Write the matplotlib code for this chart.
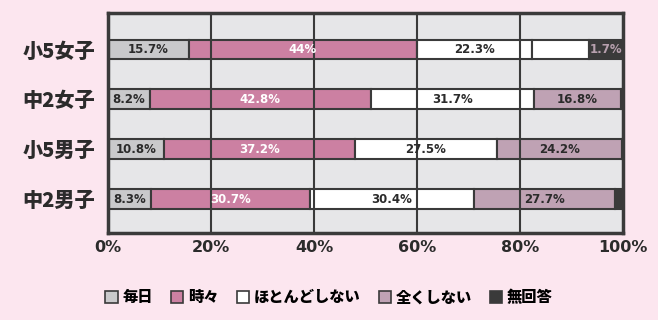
import matplotlib
matplotlib.use("Agg")
import matplotlib.pyplot as plt
import numpy as np
from matplotlib.patches import Patch

plt.rcParams['font.family'] = ['Noto Sans CJK JP', 'DejaVu Sans']

# data (percent)
groups = ["小5女子", "中2女子", "小5男子", "中2男子"]
categories = ["毎日", "時々", "ほとんどしない", "全くしない", "無回答"]
every_day = [15.7, 8.2, 10.8, 8.3]
sometimes = [44.3, 42.8, 37.2, 30.9]
rarely = [22.3, 31.7, 27.5, 31.9]
never = [11.1, 16.8, 24.2, 27.3]
no_answer = [6.6, 0.5, 0.3, 1.6]
bar_labels = [
    ["15.7%", "44%", "22.3%", "", "1.7%"],
    ["8.2%", "42.8%", "31.7%", "16.8%", ""],
    ["10.8%", "37.2%", "27.5%", "24.2%", ""],
    ["8.3%", "30.7%", "30.4%", "27.7%", ""],
]

colors = ["#c9c9cb", "#cc80a2", "#ffffff", "#bfa2b4", "#3a3a3a"]
text_colors = ["#2b2b2b", "#ffffff", "#2b2b2b", "#2b2b2b", "#b7a0ae"]
dark = "#3a3a3a"

series = [every_day, sometimes, rarely, never, no_answer]

fig = plt.figure(figsize=(6.58, 3.20), dpi=100)
fig.patch.set_facecolor("#fce6ef")
ax = fig.add_axes([0.164, 0.272, 0.783, 0.687])
ax.set_facecolor("#e6e6e8")

y = np.arange(len(groups))
left = np.zeros(len(groups))
for i, vals in enumerate(series):
    vals = np.array(vals)
    cols = [colors[i]] * len(groups)
    if i == 3:
        cols[0] = "#ffffff"  # first row drawn white in the original
    ax.barh(y, vals, left=left, height=0.4, color=cols,
            edgecolor=dark, linewidth=1.5, zorder=2)
    for r in range(len(groups)):
        txt = bar_labels[r][i]
        if txt:
            ax.text(left[r] + vals[r] / 2, y[r], txt, ha="center", va="center",
                    fontsize=8.5, fontweight="heavy", color=text_colors[i],
                    family="DejaVu Sans", zorder=4)
    left += vals

for gx in [20, 40, 60, 80]:
    ax.axvline(gx, color=dark, lw=1.5, zorder=3)

ax.set_xlim(0, 100)
ax.set_ylim(3.68, -0.73)
ax.set_xticks([0, 20, 40, 60, 80, 100])
ax.set_xticklabels(["0%", "20%", "40%", "60%", "80%", "100%"],
                   fontsize=11.5, fontweight="heavy", color="#2b2b2b",
                   family="DejaVu Sans")
ax.set_yticks(y)
ax.set_yticklabels(groups, fontsize=14.5, fontweight="heavy", color="#2b2b2b")
ax.tick_params(length=0, pad=9)
ax.tick_params(axis="x", pad=5)
for s in ax.spines.values():
    s.set_color(dark)
    s.set_linewidth(2.5)

handles = [Patch(facecolor=c, edgecolor=dark, linewidth=1.2) for c in colors]
fig.legend(handles, categories, loc="center", bbox_to_anchor=(0.5, 0.07),
           ncol=5, frameon=False, handlelength=0.8,
           handleheight=0.8, handletextpad=0.3, columnspacing=1.2,
           prop={"weight": "heavy", "size": 11})

fig.savefig("out.png", dpi=100, facecolor=fig.get_facecolor())
